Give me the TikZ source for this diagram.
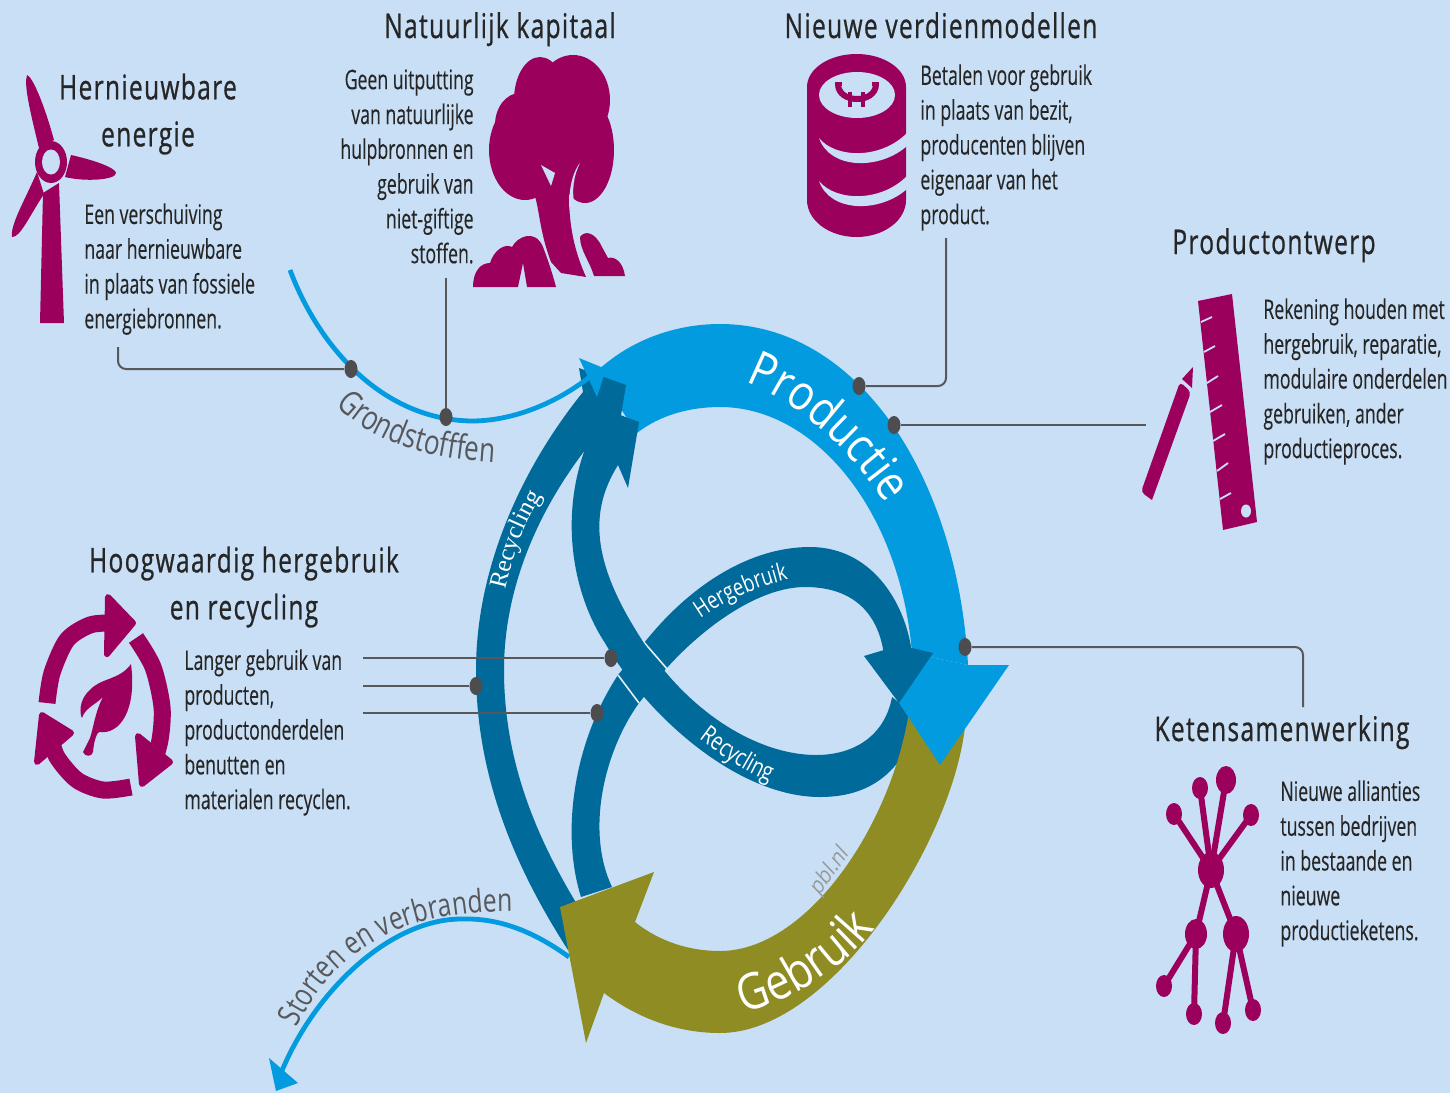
\documentclass[tikz,border=0pt]{standalone}
\usepackage{fontspec}
\usetikzlibrary{shapes.geometric,decorations.text}
\setmainfont[FakeStretch=.655,FakeBold=.2]{Open Sans}
\newfontfamily\headfont[FakeStretch=.72,LetterSpace=4,FakeBold=.7]{Open Sans}
\newfontfamily\ringfont[FakeStretch=.86]{Open Sans}
\newfontfamily\greyfont[FakeStretch=.77]{Open Sans}
\newfontfamily\pblfont[FakeStretch=.9,FakeSlant=.2]{Open Sans}
\newfontfamily\serifband{Liberation Serif}
\definecolor{bgblue}{HTML}{C9DFF6}
\definecolor{prodblue}{HTML}{039BDF}
\definecolor{loopblue}{HTML}{006A9A}
\definecolor{usegreen}{HTML}{8E8C22}
\definecolor{iconred}{HTML}{9C005D}
\definecolor{leadgray}{HTML}{58585A}
\definecolor{dotgray}{HTML}{4D4D4F}
\tikzset{
  heading/.style={font=\headfont\fontsize{17}{23.5}\selectfont,text=black!85,align=center,inner sep=0},
  bodytext/.style={font=\fontsize{13.5}{17.4}\selectfont,text=black!85,align=left,inner sep=0},
  bodyright/.style={bodytext,align=right},
  lead/.style={draw=leadgray,line width=1pt,rounded corners=4pt},
  leaddot/.style={ellipse,fill=dotgray,minimum width=6.5pt,minimum height=9pt,inner sep=0},
  netnode/.style={ellipse,fill=iconred,minimum width=8pt,minimum height=11pt,inner sep=0},
  netedge/.style={draw=iconred,line width=3pt},
  ringarrow/.style={draw=iconred,line width=8.5pt},
  thinflow/.style={draw=prodblue,line width=2.4pt}
}

\begin{document}
\begin{tikzpicture}[x=.5pt,y=-.5pt]
\fill[bgblue] (0,0) rectangle (1450,1093);
\useasboundingbox (0,0) rectangle (1450,1093);

% storten flow
\draw[thinflow] (569,957) .. controls (525,925) and (490,918) .. (460,919) .. controls (390,920) and (315,990) .. (281,1073);
\fill[prodblue] (269,1058) -- (298,1083) -- (276,1091) -- cycle;

% productie
\fill[prodblue] (596,372) .. controls (630,340) and (675,324) .. (720,324) .. controls (860,324) and (958,480) .. (968,665)
  -- (912,653) .. controls (900,510) and (815,407) .. (720,407) .. controls (690,407) and (660,415) .. (637,433) -- cycle;

% hergebruik band
\fill[loopblue] (581,897) .. controls (560,830) and (575,740) .. (618,675) -- (644,643)
  .. controls (690,585) and (750,547) .. (810,547) .. controls (870,547) and (905,600) .. (912,653)
  -- (884,655) .. controls (878,610) and (850,587) .. (805,587) .. controls (760,587) and (705,625) .. (665,670)
  -- (639,703) .. controls (605,750) and (585,830) .. (612,887) -- cycle;
\draw[white!50!bgblue,line width=.8pt] (642,640) -- (668,670) (618,675) -- (639,703);

% recycling, outer arc
\fill[loopblue] (568,950) .. controls (510,860) and (476,770) .. (476,670) .. controls (476,570) and (520,470) .. (583,392)
  -- (579,368) -- (626,385) -- (612,470) -- (603,428)
  .. controls (545,495) and (504,580) .. (504,670) .. controls (504,760) and (535,840) .. (590,925) -- cycle;
% recycling, inner loop
\fill[loopblue] (639,422) -- (628,488) -- (618,465)
  .. controls (590,510) and (590,560) .. (642,640) .. controls (690,715) and (760,755) .. (816,755) .. controls (855,755) and (885,735) .. (892,697)
  -- (915,715) -- (905,752)
  .. controls (885,785) and (855,797) .. (820,797) .. controls (740,797) and (650,720) .. (605,643) .. controls (570,590) and (555,500) .. (598,420)
  -- (580,400) -- cycle;

% gebruik
\fill[usegreen] (909,712) .. controls (890,830) and (805,951) .. (720,951) .. controls (690,951) and (660,942) .. (635,922)
  -- (654,872) -- (560,907) -- (586,1043) -- (604,993)
  .. controls (640,1020) and (680,1033) .. (720,1033) .. controls (835,1033) and (960,830) .. (966,715) -- cycle;

% arrowheads on top
\fill[prodblue] (899,703) -- (912,653) -- (968,665) -- (1009,665) -- (940,765) -- cycle;
\fill[loopblue] (864,656) -- (884,650) -- (912,648) -- (933,653) -- (899,703) -- cycle;
\draw[thinflow] (290,270) .. controls (320,350) and (385,420) .. (472,421) .. controls (510,421) and (555,405) .. (592,375);
\fill[prodblue] (579,358) -- (606,369) -- (597,397) -- cycle;

% text on the ring
\path[decorate,decoration={text along path,text align=center,text={|\ringfont\fontsize{24.5}{25}\selectfont\color{white}|Productie}}]
  (733,378) .. controls (793,395) and (853,450) .. (893,515);
\path[decorate,decoration={text along path,text align=center,text={|\ringfont\fontsize{25}{25}\selectfont\color{white}|Gebruik}}]
  (732,1016) .. controls (787,1004) and (847,969) .. (882,919);
\path[decorate,decoration={text along path,text={|\greyfont\fontsize{17}{17}\selectfont\color{leadgray}|Grondstofffen}}]
  (336,405) .. controls (375,445) and (430,460) .. (510,463);
\path[decorate,decoration={text along path,text={|\greyfont\fontsize{16}{16}\selectfont\color{leadgray}|Storten en verbranden}}]
  (297,1028) .. controls (335,950) and (400,905) .. (540,912);
\path[decorate,decoration={text along path,text align=center,text={|\serifband\fontsize{12.5}{12.5}\selectfont\color{white}|Recycling}}]
  (503,600) .. controls (512,555) and (525,520) .. (548,487);
\path[decorate,decoration={text along path,text align=center,text={|\greyfont\fontsize{12}{12}\selectfont\color{white}|Hergebruik}}]
  (695,622) .. controls (725,600) and (760,585) .. (795,578);
\path[decorate,decoration={text along path,text align=center,text={|\greyfont\fontsize{12.5}{12.5}\selectfont\color{white}|Recycling}}]
  (690,732) .. controls (725,759) and (752,777) .. (780,785);
\node[font=\pblfont\fontsize{11}{11}\selectfont,text=black!40,rotate=55,inner sep=0] (pbl) at (830,872) {pbl.nl};

% headings and texts
\node[heading] (energy) at (148,114) {Hernieuwbare\\energie};
\node[heading,anchor=base] (capital) at (500,38) {Natuurlijk kapitaal};
\node[heading,anchor=base] (models) at (941,38) {Nieuwe verdienmodellen};
\node[heading,anchor=base] (design) at (1274,254) {Productontwerp};
\node[heading] (reuse) at (244,587) {Hoogwaardig hergebruik\\en recycling};
\node[heading,anchor=base] (chain) at (1282,741) {Ketensamenwerking};
\node[bodytext,anchor=north west] (energytext) at (84,203) {Een verschuiving\\naar hernieuwbare\\in plaats van fossiele\\energiebronnen.};
\node[bodyright,anchor=north east] (capitaltext) at (474,69) {Geen uitputting\\van natuurlijke\\hulpbronnen en\\gebruik van\\niet-giftige\\stoffen.};
\node[bodytext,anchor=north west] (modeltext) at (920,64) {Betalen voor gebruik\\in plaats van bezit,\\producenten blijven\\eigenaar van het\\product.};
\node[bodytext,anchor=north west] (designtext) at (1263,298) {Rekening houden met\\hergebruik, reparatie,\\modulaire onderdelen\\gebruiken, ander\\productieproces.};
\node[bodytext,anchor=north west] (reusetext) at (184,649) {Langer gebruik van\\producten,\\productonderdelen\\benutten en\\materialen recyclen.};
\node[bodytext,anchor=north west] (chaintext) at (1280,780) {Nieuwe allianties\\tussen bedrijven\\in bestaande en\\nieuwe\\productieketens.};

% leader lines
\node[leaddot] (dotenergy) at (351,369) {};
\node[leaddot] (dotcapital) at (446,417) {};
\node[leaddot] (dotmodel) at (859,386) {};
\node[leaddot] (dotdesign) at (894,425) {};
\node[leaddot] (dotchain) at (965,647) {};
\node[leaddot] (dotreusea) at (611,658) {};
\node[leaddot] (dotreuseb) at (476,686) {};
\node[leaddot] (dotreusec) at (597,713) {};
\coordinate (endenergy) at (118,347);
\coordinate (endcapital) at (446,278);
\coordinate (endmodel) at (946,238);
\coordinate (enddesign) at (1146,425);
\coordinate (endchain) at (1303,707);
\coordinate (endreusea) at (363,658);
\coordinate (endreuseb) at (363,686);
\coordinate (endreusec) at (363,713);
\draw[lead] (endenergy) |- (dotenergy);
\draw[lead] (endcapital) -- (dotcapital);
\draw[lead] (endmodel) |- (dotmodel);
\draw[lead] (enddesign) -- (dotdesign);
\draw[lead] (endchain) |- (dotchain);
\draw[lead] (endreusea) -- (dotreusea);
\draw[lead] (endreuseb) -- (dotreuseb);
\draw[lead] (endreusec) -- (dotreusec);

% wind turbine
\fill[iconred] (43,193) -- (59,183) -- (64,323) -- (40,323) -- cycle;
\fill[iconred] (39,148) .. controls (29,107) and (24,85) .. (27,75) .. controls (33,77) and (45,107) .. (54,140) -- cycle;
\fill[iconred] (71,155) .. controls (94,160) and (116,168) .. (116,173) .. controls (116,180) and (85,182) .. (65,177) -- cycle;
\fill[iconred] (37,172) .. controls (25,200) and (10,225) .. (12,237) .. controls (20,238) and (30,215) .. (44,194) -- cycle;
\fill[iconred] (51,162) ellipse [x radius=16,y radius=21];
\fill[bgblue] (51,162) ellipse [x radius=9,y radius=12.5];

% tree
\fill[iconred] (540,100) ellipse [x radius=26,y radius=43] (573,100) ellipse [x radius=37,y radius=45]
  (525,150) ellipse [x radius=36,y radius=50] (585,150) ellipse [x radius=29,y radius=53] (550,130) ellipse [x radius=30,y radius=40]
  (520,125) ellipse [x radius=25,y radius=32];
\fill[iconred] (530,185) .. controls (540,200) and (537,225) .. (551,262) -- (561,273) -- (586,277) .. controls (572,245) and (568,220) .. (569,177) -- (560,150) -- cycle;
\fill[bgblue] (580,163) .. controls (574,170) and (569,185) .. (569,207) -- (575,207) .. controls (571,190) and (574,175) .. (580,163) -- cycle;
\fill[bgblue] (541,165) -- (555,173) -- (551,186) -- cycle;
\fill[iconred] (473,287) .. controls (473,272) and (480,263) .. (490,263) .. controls (494,250) and (505,243) .. (512,247) .. controls (517,237) and (535,228) .. (543,247) .. controls (548,260) and (552,272) .. (556,287) -- (527,287) -- (523,263) -- (518,287) -- cycle;
\fill[iconred] (580,237) .. controls (585,230) and (595,232) .. (602,247) -- (608,258) .. controls (615,256) and (623,262) .. (625,276) -- (594,276) .. controls (590,262) and (580,250) .. (580,237) -- cycle;

% coins
\fill[iconred] (807,87) arc [start angle=180,end angle=360,x radius=49.5,y radius=33] -- (906,200) arc [start angle=0,end angle=180,x radius=49.5,y radius=37] -- cycle;
\fill[bgblue] (857,95) ellipse [x radius=38,y radius=23];
\fill[bgblue] (819,138) .. controls (835,158) and (880,160) .. (907,133) -- (907,146) .. controls (880,170) and (830,170) .. (819,138) -- cycle;
\fill[bgblue] (819,181) .. controls (835,201) and (880,203) .. (907,176) -- (907,189) .. controls (880,213) and (830,213) .. (819,181) -- cycle;
\draw[iconred,line width=3pt] (838,84) .. controls (838,104) and (876,104) .. (876,84);
\draw[iconred,line width=2.4pt] (850,92) -- (850,107) (863,92) -- (863,107) (835,84) -- (842,84) (872,84) -- (879,84);

% ruler and pencil
\fill[iconred] (1198,301) -- (1232,294) -- (1257,522) -- (1223,530) -- cycle;
\draw[bgblue,line width=.9pt] (1201,322) -- (1212,317) (1204,352) -- (1215,346) (1207,383) -- (1218,376) (1210,412) -- (1222,405) (1213,441) -- (1225,434) (1217,471) -- (1228,463) (1220,499) -- (1231,493);
\fill[bgblue] (1246,511) ellipse [x radius=5,y radius=6.5];
\fill[iconred,rounded corners=2pt] (1180,382) -- (1191,392) [sharp corners] -- (1152,500) [rounded corners=2pt] -- (1141,492) -- cycle;
\fill[iconred] (1182,379) -- (1193,367) -- (1192,388) -- cycle;

% recycling icon
\draw[ringarrow] plot[smooth] coordinates {(47,703) (52,673) (67,640) (90,625) (112,623)};
\draw[ringarrow] plot[smooth] coordinates {(136,638) (153,667) (162,707) (160,740) (152,768)};
\draw[ringarrow] plot[smooth] coordinates {(131,787) (103,790) (77,780) (57,757) (50,735)};
\fill[iconred,draw=iconred,line width=3pt,line join=round] (108,597) -- (133,623) -- (107,654) -- cycle;
\fill[iconred,draw=iconred,line width=3pt,line join=round] (138,736) -- (170,762) -- (142,784) -- cycle;
\fill[iconred,draw=iconred,line width=3pt,line join=round] (42,715) -- (71,733) -- (37,762) -- cycle;
\fill[iconred] (131,664) .. controls (120,680) and (100,678) .. (90,690) .. controls (78,700) and (80,715) .. (82,718) .. controls (85,708) and (95,705) .. (103,697) .. controls (95,712) and (93,730) .. (90,738) -- (83,752) .. controls (85,757) and (92,757) .. (93,752) .. controls (94,740) and (97,733) .. (99,732) .. controls (120,735) and (137,710) .. (131,664) -- cycle;

% network icon
\node[netnode,minimum width=13pt,minimum height=18pt] (nethub) at (1211,870) {};
\node[netnode] (neta) at (1174,814) {};
\node[netnode] (netb) at (1200,788) {};
\node[netnode,minimum width=10pt,minimum height=14pt] (netc) at (1226,780) {};
\node[netnode] (netd) at (1251,815) {};
\node[netnode,minimum width=11pt,minimum height=15pt] (nete) at (1196,934) {};
\node[netnode,minimum width=13pt,minimum height=18pt] (netf) at (1236,934) {};
\node[netnode] (netg) at (1164,986) {};
\node[netnode] (neth) at (1194,1014) {};
\node[netnode] (neti) at (1223,1023) {};
\node[netnode] (netj) at (1253,1010) {};
\foreach \a in {neta,netb,netc,netd,nete,netf}
  \draw[netedge] (nethub.center) -- (\a.center);
\foreach \a in {netg,neth}
  \draw[netedge] (nete.center) -- (\a.center);
\foreach \a in {neti,netj}
  \draw[netedge] (netf.center) -- (\a.center);
\end{tikzpicture}
\end{document}
